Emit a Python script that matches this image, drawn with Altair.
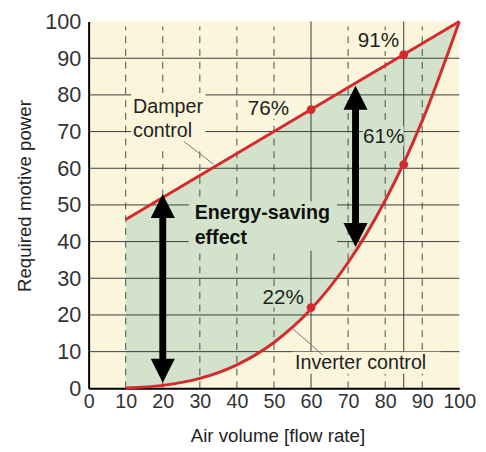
import altair as alt
import pandas as pd

# ---- data ----
x_air = [10, 20, 30, 40, 50, 60, 70, 80, 85, 90, 100]
damper = [46, 52, 58, 64, 70, 76, 82, 88, 91, 94, 100]
inverter = [0.1, 0.8, 2.7, 6.4, 12.5, 21.6, 34.3, 51.2, 61.4, 72.9, 100]

marker_x = [60, 85, 85, 60]
marker_y = [76, 91, 61, 22]

pct_text = ["76%", "91%", "61%", "22%"]
pct_x = [48.5, 78.2, 79.6, 52.5]
pct_y = [76.1, 94.6, 68.6, 24.7]

note_text = ["Damper", "control", "Inverter control"]
note_x = [12.0, 12.0, 55.7]
note_y = [76.7, 70.0, 7.0]

bold_text = ["Energy-saving", "effect"]
bold_x = [28.6, 28.6]
bold_y = [47.7, 41.0]

arrow_x = [20, 72]
arrow_lo = [1.5, 38.5]
arrow_hi = [53.0, 82.5]

leader_x1 = [25.7, 54.9]
leader_y1 = [67.3, 16.4]
leader_x2 = [33.7, 63.1]
leader_y2 = [61.1, 9.1]

hgrid = [10, 20, 30, 40, 50, 60, 70, 80, 90]
vgrid_dashed = [10, 20, 30, 40, 50, 70, 80, 90]
vgrid_solid = [60, 85]
ticks = list(range(0, 101, 10))

# label background masks (x1, x2, y1, y2, fill kind)
mask_x1 = [11.5, 27.0, 43.0, 73.0, 74.0, 47.0, 55.0]
mask_x2 = [31.5, 67.0, 54.0, 83.5, 85.0, 58.0, 95.0]
mask_y1 = [66.0, 37.5, 73.5, 92.0, 66.0, 22.0, 4.0]
mask_y2 = [80.5, 51.0, 79.0, 97.5, 71.5, 27.5, 10.0]
mask_kind = ["bg", "fill", "bg", "bg", "fill", "fill", "bg"]

# ---- styling ----
FONT = "Liberation Sans"
BG = "#fbf6db"
GREEN = "#d3e3cb"
RED = "#d42a2e"
W, H = 377, 373

xs = alt.Scale(domain=[0, 100], nice=False, zero=False)
ys = alt.Scale(domain=[0, 100], nice=False, zero=False)

AX_X = alt.Axis(
    values=ticks, title="Air volume [flow rate]", grid=False, ticks=False,
    domainColor="#000", domainWidth=2, labelFont=FONT, labelFontSize=20,
    labelColor="#333", labelPadding=4, labelFlush=False, labelOverlap=False,
    titleFont=FONT, titleFontSize=19, titleFontWeight="normal", titleColor="#222",
    titleX=192, titleY=48, titleBaseline="middle", titleAlign="center")
AX_Y = alt.Axis(
    values=ticks, title="Required motive power", grid=False, ticks=False,
    domainColor="#000", domainWidth=2, labelFont=FONT, labelFontSize=22,
    labelColor="#333", labelPadding=8, labelFlush=False, labelOverlap=False,
    titleFont=FONT, titleFontSize=19, titleFontWeight="normal", titleColor="#222",
    titleX=-65, titleY=177, titleBaseline="middle", titleAlign="center", titleAngle=-90)


def X(f):
    return alt.X(f, scale=xs, axis=AX_X)


def Y(f):
    return alt.Y(f, scale=ys, axis=AX_Y)


curve_df = pd.DataFrame({"x": x_air, "damper": damper, "inverter": inverter})

area = alt.Chart(curve_df).mark_area(color=GREEN, opacity=1, interpolate="monotone").encode(
    x=X("x:Q"), y=Y("damper:Q"), y2="inverter:Q")

hg = alt.Chart(pd.DataFrame({"v": hgrid})).mark_rule(color="#3a3a3a", strokeWidth=1).encode(
    y=Y("v:Q"), x=alt.value(0), x2=alt.value(W))

vgd = alt.Chart(pd.DataFrame({"v": vgrid_dashed})).mark_rule(
    color="#4a4a4a", strokeWidth=1, strokeDash=[7, 6]).encode(
    x=X("v:Q"), y=alt.value(H), y2=alt.value(5))

vgs = alt.Chart(pd.DataFrame({"v": vgrid_solid})).mark_rule(
    color="#3a3a3a", strokeWidth=1).encode(
    x=X("v:Q"), y=alt.value(H), y2=alt.value(0))

mask_df = pd.DataFrame({"x1": mask_x1, "x2": mask_x2, "y1": mask_y1, "y2": mask_y2,
                        "c": [BG if k == "bg" else GREEN for k in mask_kind]})
masks = alt.Chart(mask_df).mark_rect(opacity=1).encode(
    x=X("x1:Q"), x2="x2:Q", y=Y("y1:Q"), y2="y2:Q",
    color=alt.Color("c:N", scale=None))

dline = alt.Chart(curve_df).mark_line(color=RED, strokeWidth=3).encode(
    x=X("x:Q"), y=Y("damper:Q"))
iline = alt.Chart(curve_df).mark_line(color=RED, strokeWidth=3, interpolate="monotone").encode(
    x=X("x:Q"), y=Y("inverter:Q"))

leader_df = pd.DataFrame({"x1": leader_x1, "y1": leader_y1, "x2": leader_x2, "y2": leader_y2})
leaders = alt.Chart(leader_df).mark_rule(color="#777", strokeWidth=1).encode(
    x=X("x1:Q"), y=Y("y1:Q"), x2="x2:Q", y2="y2:Q")

dots = alt.Chart(pd.DataFrame({"x": marker_x, "y": marker_y})).mark_point(
    filled=True, color=RED, size=80, opacity=1).encode(x=X("x:Q"), y=Y("y:Q"))

arr_df = pd.DataFrame({"x": arrow_x, "lo": arrow_lo, "hi": arrow_hi})
shafts = alt.Chart(arr_df).mark_rule(color="#000", strokeWidth=7, yOffset=-14, y2Offset=14).encode(
    x=X("x:Q"), y=Y("lo:Q"), y2="hi:Q")
heads_up = alt.Chart(arr_df).mark_point(
    shape="M0,0L-1,2L1,2Z", filled=True, color="#000", size=600, opacity=1, strokeWidth=0).encode(
    x=X("x:Q"), y=Y("hi:Q"))
heads_dn = alt.Chart(arr_df).mark_point(
    shape="M0,0L-1,-2L1,-2Z", filled=True, color="#000", size=600, opacity=1, strokeWidth=0).encode(
    x=X("x:Q"), y=Y("lo:Q"))

pct = alt.Chart(pd.DataFrame({"x": pct_x, "y": pct_y, "t": pct_text})).mark_text(
    font=FONT, fontSize=21, color="#222", align="center", baseline="middle").encode(
    x=X("x:Q"), y=Y("y:Q"), text="t:N")

notes = alt.Chart(pd.DataFrame({"x": note_x, "y": note_y, "t": note_text})).mark_text(
    font=FONT, fontSize=20, color="#222", align="left", baseline="middle").encode(
    x=X("x:Q"), y=Y("y:Q"), text="t:N")

bold = alt.Chart(pd.DataFrame({"x": bold_x, "y": bold_y, "t": bold_text})).mark_text(
    font=FONT, fontSize=20, fontWeight="bold", color="#111", align="left", baseline="middle").encode(
    x=X("x:Q"), y=Y("y:Q"), text="t:N")

chart = alt.layer(
    area, hg, vgd, vgs, masks, dline, iline, leaders, dots, shafts, heads_up, heads_dn,
    pct, notes, bold
).properties(
    width=W, height=H,
    autosize=alt.AutoSizeParams(type="none"),
    padding={"left": 82, "top": 10, "right": 19, "bottom": 61},
    background="white",
).configure_view(stroke=None, fill=BG)

chart.save("out.html", embed_options={"renderer": "svg", "actions": False})
